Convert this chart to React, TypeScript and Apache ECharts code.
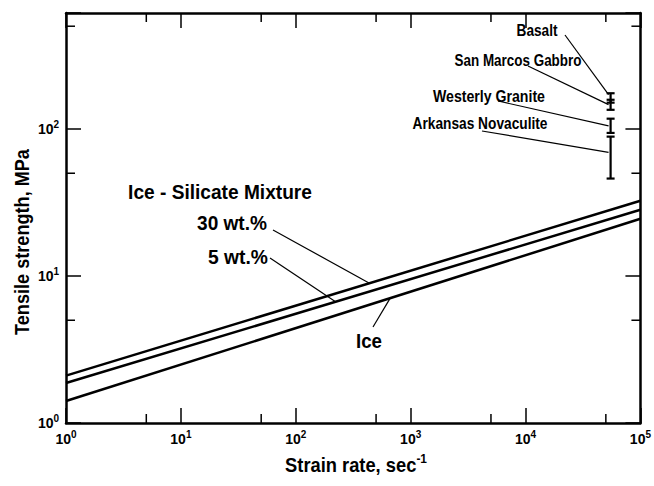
import React, { useEffect, useRef } from 'react';
import * as echarts from 'echarts';

// ---- data ----
const xRange = [1, 100000];
const yRange = [1, 615];
const strainRate = [1, 100000];
const wt30 = [2.1, 32.5];
const wt5 = [1.87, 28.2];
const ice = [1.41, 24.5];

const rockNames = ['Basalt', 'San Marcos Gabbro', 'Westerly Granite', 'Arkansas Novaculite'];
const rockRate = [55000, 55000, 55000, 55000];
const rockLow = [151, 135, 94, 46];
const rockHigh = [175, 158, 117.5, 88.7];
const rockLeaderValue = [171, 146.5, 105, 69.3];

const xMinorTicks = [5, 50, 500, 5000, 50000];
const yMinorTicks = [5, 50, 500];

const FONT = "'Liberation Sans', Arial, sans-serif";

function powLabel(v: number) {
  const e = Math.round(Math.log10(v));
  if (Math.abs(Math.log10(v) - e) > 1e-6) return '';
  return `{b|10}{s|${e}}`;
}

const labelRich = {
  b: { fontSize: 14, fontWeight: 'bold', fontFamily: FONT, color: '#000' },
  s: { fontSize: 10, fontWeight: 'bold', fontFamily: FONT, color: '#000', padding: [0, 0, 9, 0] },
};

function interpLog(xs: number[], ys: number[], x: number) {
  const lx0 = Math.log10(xs[0]), lx1 = Math.log10(xs[1]);
  const ly0 = Math.log10(ys[0]), ly1 = Math.log10(ys[1]);
  const t = (Math.log10(x) - lx0) / (lx1 - lx0);
  return Math.pow(10, ly0 + t * (ly1 - ly0));
}

function measure(style: any) {
  const t = new (echarts.graphic as any).Text({ style });
  return t.getBoundingRect().width;
}

export default function App() {
  const ref = useRef<HTMLDivElement>(null);
  useEffect(() => {
    if (!ref.current) return;
    const chart = echarts.init(ref.current, undefined, { renderer: 'svg' });
    const axisLine = { show: true, lineStyle: { color: '#000', width: 2.5 } };
    const tickStyle = { color: '#000', width: 1.5 };
    const lineSeries = (name: string, ys: number[]) => ({
      type: 'line',
      name,
      data: strainRate.map((x, i) => [x, ys[i]]),
      symbol: 'none',
      lineStyle: { color: '#000', width: 2.5 },
      clip: true,
      z: 3,
    });
    const option: any = {
      animation: false,
      grid: { left: 66, right: 9, top: 13, bottom: 63 },
      xAxis: [
        {
          type: 'log', logBase: 10, min: xRange[0], max: xRange[1], position: 'bottom',
          axisLine, axisTick: { inside: true, length: 15, lineStyle: tickStyle },
          axisLabel: { formatter: powLabel, rich: labelRich, margin: 6, showMaxLabel: true, showMinLabel: true },
          splitLine: { show: false },
        },
        {
          type: 'log', logBase: 10, min: xRange[0], max: xRange[1], position: 'top',
          axisLine, axisTick: { inside: true, length: 15, lineStyle: tickStyle },
          axisLabel: { show: false }, splitLine: { show: false },
        },
      ],
      yAxis: [
        {
          type: 'log', logBase: 10, min: yRange[0], max: yRange[1], position: 'left',
          axisLine, axisTick: { inside: true, length: 15, lineStyle: tickStyle },
          axisLabel: { formatter: powLabel, rich: labelRich, margin: 7 },
          splitLine: { show: false },
        },
        {
          type: 'log', logBase: 10, min: yRange[0], max: yRange[1], position: 'right',
          axisLine, axisTick: { inside: true, length: 15, lineStyle: tickStyle },
          axisLabel: { show: false }, splitLine: { show: false },
        },
      ],
      series: [
        lineSeries('30 wt.%', wt30),
        lineSeries('5 wt.%', wt5),
        lineSeries('Ice', ice),
        {
          type: 'custom',
          name: 'x minor ticks',
          data: xMinorTicks.map((v) => [v, yRange[0]]),
          renderItem: (params: any, api: any) => {
            const v = api.value(0);
            const b = api.coord([v, yRange[0]]);
            const t = api.coord([v, yRange[1]]);
            const st = { stroke: '#000', lineWidth: 1.5 };
            return {
              type: 'group',
              children: [
                { type: 'line', shape: { x1: b[0], y1: b[1], x2: b[0], y2: b[1] - 9 }, style: st },
                { type: 'line', shape: { x1: t[0], y1: t[1], x2: t[0], y2: t[1] + 9 }, style: st },
              ],
            };
          },
          silent: true,
        },
        {
          type: 'custom',
          name: 'y minor ticks',
          data: yMinorTicks.map((v) => [xRange[0], v]),
          renderItem: (params: any, api: any) => {
            const v = api.value(1);
            const l = api.coord([xRange[0], v]);
            const r = api.coord([xRange[1], v]);
            const st = { stroke: '#000', lineWidth: 1.5 };
            return {
              type: 'group',
              children: [
                { type: 'line', shape: { x1: l[0], y1: l[1], x2: l[0] + 9, y2: l[1] }, style: st },
                { type: 'line', shape: { x1: r[0], y1: r[1], x2: r[0] - 9, y2: r[1] }, style: st },
              ],
            };
          },
          silent: true,
        },
        {
          type: 'custom',
          name: 'rock tensile strength',
          data: rockRate.map((x, i) => [x, rockLow[i], rockHigh[i]]),
          encode: { x: 0, y: [1, 2] },
          renderItem: (params: any, api: any) => {
            const x = api.value(0);
            const lo = api.coord([x, api.value(1)]);
            const hi = api.coord([x, api.value(2)]);
            const st = { stroke: '#000', lineWidth: 2.2 };
            const w = 4;
            return {
              type: 'group',
              children: [
                { type: 'line', shape: { x1: lo[0], y1: lo[1], x2: hi[0], y2: hi[1] }, style: st },
                { type: 'line', shape: { x1: lo[0] - w, y1: lo[1], x2: lo[0] + w, y2: lo[1] }, style: st },
                { type: 'line', shape: { x1: hi[0] - w, y1: hi[1], x2: hi[0] + w, y2: hi[1] }, style: st },
              ],
            };
          },
          z: 4,
        },
      ],
    };
    chart.setOption(option);

    const px = (x: number, y: number) => chart.convertToPixel({ xAxisIndex: 0, yAxisIndex: 0 }, [x, y]) as number[];
    const thin = { stroke: '#000', lineWidth: 1.2 };
    const txt = (text: string, x: number, y: number, size: number, width: number, extra: any = {}) => {
      const style: any = { text, fontSize: size, fontWeight: 'bold', fontFamily: FONT, fill: '#000', align: 'center', verticalAlign: 'middle', ...extra };
      const w = measure(style);
      return { type: 'text', x, y, silent: true, scaleX: w > 0 ? width / w : 1, style } as any;
    };
    const leader = (x1: number, y1: number, p: number[]) => ({ type: 'line', silent: true, shape: { x1, y1, x2: p[0], y2: p[1] }, style: thin });

    const rockLabelPos = [[537, 31], [518, 61], [489, 96], [480, 124]];
    const rockLabelWidth = [41, 127, 112, 135];
    const rockLeaderStart = [[565, 35], [528, 66], [498, 101], [482, 131]];
    const graphics: any[] = [];
    rockNames.forEach((n, i) => {
      graphics.push(txt(n, rockLabelPos[i][0], rockLabelPos[i][1], 16, rockLabelWidth[i]));
      graphics.push(leader(rockLeaderStart[i][0], rockLeaderStart[i][1], px(rockRate[i] * 0.96, rockLeaderValue[i])));
    });

    const a30 = 438, a5 = 222, aIce = 664;
    graphics.push(txt('Ice - Silicate Mixture', 220, 192, 21, 184));
    graphics.push(txt('30 wt.%', 232, 223, 21, 70));
    graphics.push(leader(273, 230, px(a30, interpLog(strainRate, wt30, a30))));
    graphics.push(txt('5 wt.%', 238, 257, 21, 60));
    graphics.push(leader(270, 258, px(a5, interpLog(strainRate, wt5, a5))));
    graphics.push(txt('Ice', 369, 341, 21, 26));
    graphics.push(leader(373, 327, px(aIce, interpLog(strainRate, ice, aIce))));

    const xNameStyle: any = {
      text: '{t|Strain rate, sec}{s|-1}', align: 'center', verticalAlign: 'middle',
      rich: {
        t: { fontSize: 20, fontFamily: FONT, fontWeight: 'bold', fill: '#000' },
        s: { fontSize: 13, fontFamily: FONT, fontWeight: 'bold', fill: '#000', padding: [0, 0, 12, 0] },
      },
    };
    const xw = measure(xNameStyle);
    graphics.push({ type: 'text', x: 356, y: 465, silent: true, scaleX: xw > 0 ? 142 / xw : 1, style: xNameStyle });
    const yl = txt('Tensile strength, MPa', 22, 242, 20, 186);
    yl.rotation = Math.PI / 2;
    graphics.push(yl);

    chart.setOption({ graphic: graphics });
    return () => chart.dispose();
  }, []);
  return <div ref={ref} style={{ position: 'absolute', left: 0, top: 0, width: 654, height: 486, background: '#fff' }} />;
}
